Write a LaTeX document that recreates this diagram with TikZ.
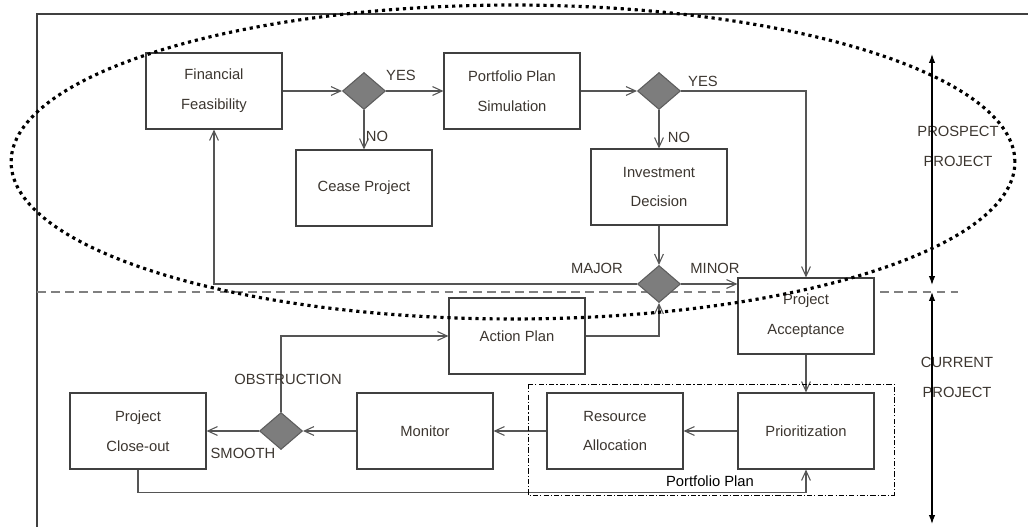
\documentclass[tikz,border=0pt]{standalone}
\usepackage{fontspec}
\setmainfont{Liberation Sans}
\usetikzlibrary{shapes.geometric,arrows.meta,positioning}

\definecolor{linec}{RGB}{85,85,85}
\definecolor{boxc}{RGB}{64,64,64}
\definecolor{textc}{RGB}{60,54,48}
\definecolor{dfill}{RGB}{125,125,125}

\begin{document}
\begin{tikzpicture}[x=0.02cm,y=-0.02cm,->,>={Straight Barb[length=5.5pt,width=5pt]},
                    line width=0.6pt,color=linec,text=textc,
                    font=\fontsize{8.4}{17}\selectfont,
                    box/.style={draw=boxc,fill=white,rectangle,minimum width=2.72cm,
                                minimum height=1.52cm,inner sep=0pt,align=center},
                    decision/.style={draw=boxc!85,fill=dfill,diamond,minimum width=0.86cm,
                                     minimum height=0.74cm,inner sep=0pt},
                    hv/.style={to path={-| (\tikztotarget) \tikztonodes}},
                    vh/.style={to path={|- (\tikztotarget) \tikztonodes}}]

  \useasboundingbox (0,0) rectangle (1028,527);
  \draw[-,boxc,line width=0.7pt] (1028,14) -- (37,14) -- (37,527);
  \draw[-,gray,line width=0.7pt,dash pattern=on 5pt off 3pt] (37,292) -- (958,292);

  \node[box]      (A) at (214,91)  {Financial\\Feasibility};
  \node[decision] (B) at (364,91)  {};
  \node[box]      (C) at (364,188) {Cease Project};
  \node[box]      (D) at (512,91)  {Portfolio Plan\\Simulation};
  \node[decision] (E) at (659,91)  {};
  \node[box]      (F) at (659,187) {Investment\\Decision};
  \node[decision] (G) at (659,284) {};
  \node[box]      (H) at (806,316) {Project\\Acceptance};
  \node[box]      (I) at (517,336) {Action Plan};
  \node[box]      (J) at (806,431) {Prioritization};
  \node[box]      (K) at (615,431) {Resource\\Allocation};
  \node[box]      (L) at (425,431) {Monitor};
  \node[decision] (M) at (281,431) {};
  \node[box]      (N) at (138,431) {Project\\Close-out};

  \path (A) edge               (B)
        (B) edge               (D)
            edge               (C)
        (D) edge               (E)
        (E) edge [hv]          (H)
            edge               (F)
        (F) edge               (G)
        (G) edge [hv]          (A)
            edge               (H.west |- G)
        (H) edge               (J)
        (J) edge               (K)
        (K) edge               (L)
        (L) edge               (M)
        (M) edge               (N)
            edge [vh]          (I)
        (I) edge [hv]          (G);
  \draw (N.south) -- ++(0,23) -| (J.south);

  \node (yes1)   at (401,75)  {YES};
  \node (no1)    at (377,136) {NO};
  \node (yes2)   at (703,81)  {YES};
  \node (no2)    at (679,137) {NO};
  \node (major)  at (597,268) {MAJOR};
  \node (minor)  at (715,268) {MINOR};
  \node (obst)   at (288,379) {OBSTRUCTION};
  \node (smooth) at (243,453) {SMOOTH};
  \node[text=black] (pplan) at (710,481) {Portfolio Plan};
  \node[align=center] (prosp) at (958,146) {PROSPECT\\PROJECT};
  \node[align=center] (curr)  at (957,377) {CURRENT\\PROJECT};

  \coordinate (t1) at (932,54);
  \coordinate (t2) at (932,285);
  \coordinate (t3) at (932,292);
  \coordinate (t4) at (932,524);
  \draw[{Latex[length=5pt,width=3.6pt]}-{Latex[length=5pt,width=3.6pt]},black,line width=0.7pt]
    (t1) -- (t2);
  \draw[{Latex[length=5pt,width=3.6pt]}-{Latex[length=5pt,width=3.6pt]},black,line width=0.7pt]
    (t3) -- (t4);

  \draw[-,black,line width=0.5pt,dash pattern=on 3pt off 1.2pt on 0.6pt off 1.2pt]
    (528,384) rectangle (894,495);
  \draw[-,black,line width=1.8pt,dash pattern=on 1.8pt off 2.2pt]
    (513,162) ellipse [x radius=10.04cm,y radius=3.14cm];
\end{tikzpicture}
\end{document}
